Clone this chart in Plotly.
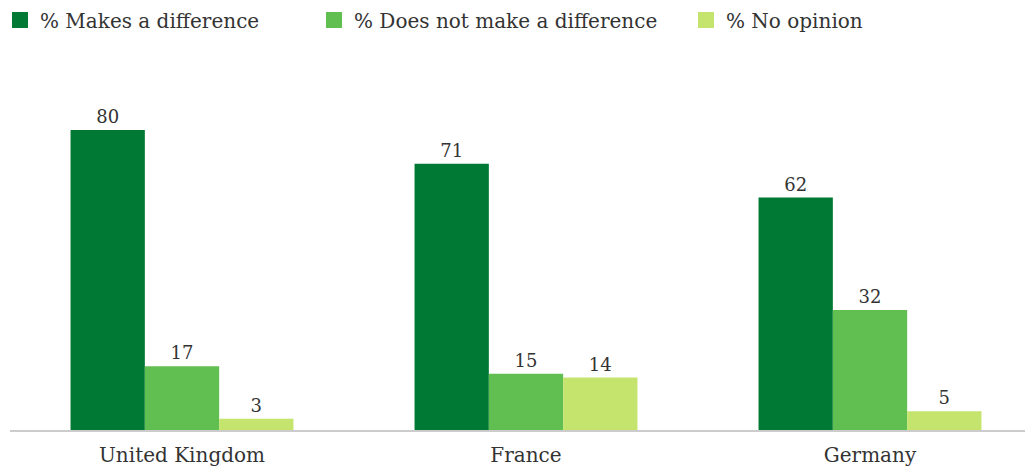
import plotly.graph_objects as go

countries = ["United Kingdom", "France", "Germany"]
series_names = ["% Makes a difference", "% Does not make a difference", "% No opinion"]
makes_diff = [80, 71, 62]
no_diff = [17, 15, 32]
no_opinion = [3, 14, 5]
colors = ["#007934", "#60BF50", "#C5E46E"]

FONT = "DejaVu Serif"
fig = go.Figure()
legends = ["legend", "legend2", "legend3"]
for name, vals, col, lg in zip(series_names, [makes_diff, no_diff, no_opinion], colors, legends):
    fig.add_trace(go.Bar(
        x=countries, y=vals, name=name, marker_color=col, marker_line_width=0,
        text=vals, textposition="outside", cliponaxis=False,
        textfont=dict(family=FONT, size=18, color="#333333"),
        showlegend=False,
    ))
    fig.add_trace(go.Scatter(
        x=[None], y=[None], mode="markers", name=name, legend=lg,
        marker=dict(symbol="square", size=20, color=col),
    ))

L = 2
W_PLOT = 1033 - L
H_PLOT = 422
PX_PER_UNIT = 3.75
leg_px = [0, 314, 686]          # desired legend left edges (page px)
def lx(px):
    return (px - 8 - L) / W_PLOT

common_leg = dict(orientation="h", yanchor="middle", y=1 - 12 / H_PLOT, xanchor="left",
                  font=dict(family=FONT, size=20, color="#333333"),
                  bgcolor="rgba(0,0,0,0)", itemwidth=30)
fig.update_layout(
    width=1033, height=468,
    margin=dict(l=L, r=0, t=0, b=468 - H_PLOT, autoexpand=False),
    paper_bgcolor="white", plot_bgcolor="white",
    barmode="group", bargap=0.352, bargroupgap=0,
    legend=dict(common_leg, x=lx(leg_px[0])),
    legend2=dict(common_leg, x=lx(leg_px[1])),
    legend3=dict(common_leg, x=lx(leg_px[2])),
    xaxis=dict(range=[-0.5, -0.5 + W_PLOT / 344], showline=True, linecolor="#cccccc",
               linewidth=2, ticks="", showgrid=False, automargin=False,
               ticklabelstandoff=6,
               tickfont=dict(family=FONT, size=20, color="#333333")),
    yaxis=dict(range=[0, H_PLOT / PX_PER_UNIT], visible=False, showgrid=False, zeroline=False),
)
fig.write_html("out.html")
